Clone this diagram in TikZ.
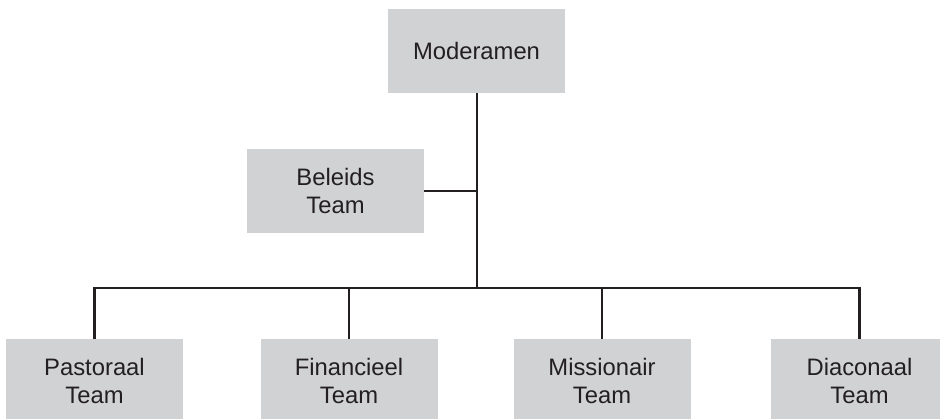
\documentclass[tikz,border=0pt]{standalone}
\usepackage{fontspec}
\setmainfont{Liberation Sans}
\definecolor{boxgray}{HTML}{D1D2D4}
\definecolor{ink}{HTML}{231F20}
\begin{document}
\begin{tikzpicture}[x=1pt,y=-1pt,
  orgbox/.style={fill=boxgray, draw=none, minimum width=177pt, minimum height=84pt,
    inner sep=0pt, align=center, text=ink, font=\fontsize{23.8}{28.5}\selectfont},
  link/.style={draw=ink, line width=2.3pt}]
\useasboundingbox (0,0) rectangle (940,419);
\node[orgbox] (mod) at (476.5,51) {Moderamen};
\node[orgbox] (bel) at (335.5,191) {Beleids\\Team};
\node[orgbox] (pas) at (94.5,381) {Pastoraal\\Team};
\node[orgbox] (fin) at (349,381) {Financieel\\Team};
\node[orgbox] (mis) at (602,381) {Missionair\\Team};
\node[orgbox] (dia) at (859.5,381) {Diaconaal\\Team};
\coordinate (bar) at (477,288);
\draw[link] (mod.south -| bar) -- (bar);
\draw[link] (bel.east) -- (bel.east -| bar);
\draw[link] (pas.north) |- (bar) -| (dia.north);
\draw[link] (fin.north) -- (fin.north |- bar);
\draw[link] (mis.north) -- (mis.north |- bar);
\end{tikzpicture}
\end{document}
